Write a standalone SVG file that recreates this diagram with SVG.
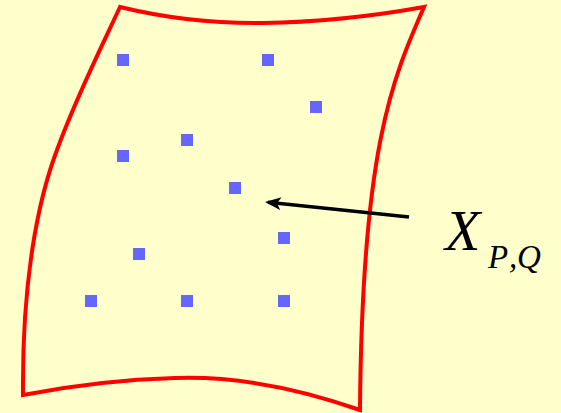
<svg xmlns="http://www.w3.org/2000/svg" width="561" height="413" viewBox="0 0 561 413">
<style>
.edge{fill:none;stroke:#ff0000;stroke-width:4;stroke-linejoin:miter}
.pt{fill:#6666ff}
.lbl{font-family:"Liberation Serif",serif;font-style:italic;fill:#000}
</style>
<defs>
<marker id="ah" markerWidth="16" markerHeight="13" refX="13" refY="6.5" orient="auto" markerUnits="userSpaceOnUse" viewBox="0 0 16 13">
<path d="M0,0 L16,6.5 L0,13 L4,6.5 Z" fill="#000"/>
</marker>
</defs>
<rect width="561" height="413" fill="#ffffcc"/>
<g id="surface">
<path class="edge" d="M120,7 Q190,24 263,23 Q340,22 424,7 C392,80 362,150 360,410 Q260,375 175,378 Q100,380 23,395 C22,280 38,200 57,150 C75,100 100,50 120,7 Z"/>
</g>
<g id="points">
<rect class="pt" x="117" y="54" width="12" height="12"/>
<rect class="pt" x="262" y="54" width="12" height="12"/>
<rect class="pt" x="310" y="101" width="12" height="12"/>
<rect class="pt" x="181" y="134" width="12" height="12"/>
<rect class="pt" x="117" y="150" width="12" height="12"/>
<rect class="pt" x="229" y="182" width="12" height="12"/>
<rect class="pt" x="278" y="232" width="12" height="12"/>
<rect class="pt" x="133" y="248" width="12" height="12"/>
<rect class="pt" x="85" y="295" width="12" height="12"/>
<rect class="pt" x="181" y="295" width="12" height="12"/>
<rect class="pt" x="278" y="295" width="12" height="12"/>
</g>
<g id="connectors">
<line x1="409" y1="217" x2="268" y2="202.3" stroke="#000" stroke-width="3.5" marker-end="url(#ah)"/>
</g>
<g id="label">
<text class="lbl" x="445" y="250" font-size="58">X</text>
<text class="lbl" y="268" font-size="33"><tspan x="488">P</tspan><tspan x="509">,</tspan><tspan x="517">Q</tspan></text>
</g>
</svg>
